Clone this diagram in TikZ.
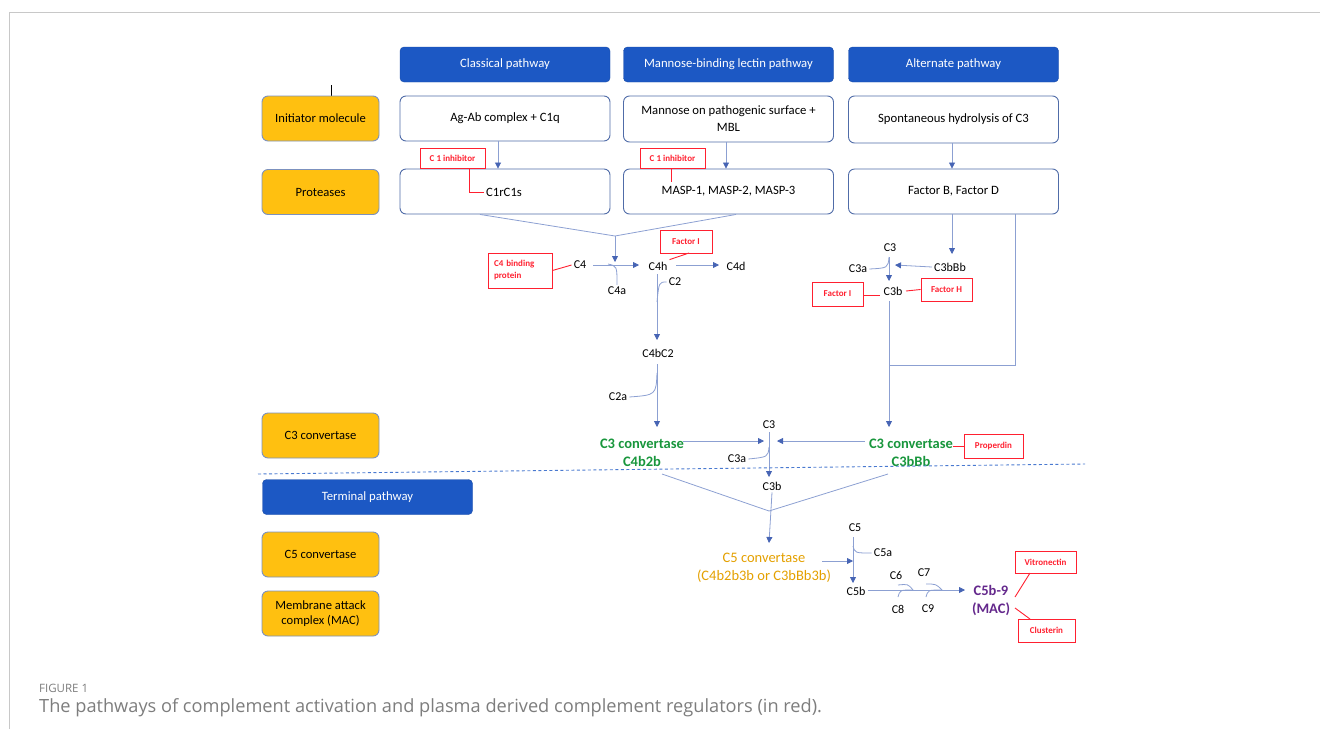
\documentclass[tikz,border=0pt]{standalone}
\usepackage{fontspec}
\setmainfont{Carlito}
\newfontfamily\capfont{Open Sans}
\usetikzlibrary{arrows.meta}
\definecolor{hdrblue}{RGB}{28,88,196}
\definecolor{boxblue}{RGB}{80,108,168}
\definecolor{flowblue}{RGB}{140,160,210}
\definecolor{tipblue}{RGB}{70,100,180}
\definecolor{stepfill}{RGB}{255,192,16}
\definecolor{regred}{RGB}{255,32,48}
\definecolor{convgreen}{RGB}{24,150,60}
\definecolor{convgold}{RGB}{228,160,0}
\definecolor{macpurple}{RGB}{100,40,140}
\definecolor{capgray}{RGB}{125,125,125}
\definecolor{framegray}{RGB}{200,200,200}

\tikzset{
  hdr/.style={fill=hdrblue, draw=hdrblue!85!black, rounded corners=4pt, text=white,
    minimum width=210pt, minimum height=35pt, inner sep=0pt, font=\fontsize{12.7}{15}\selectfont},
  initbox/.style={fill=white, draw=boxblue, line width=0.9pt, rounded corners=6pt, align=center,
    minimum width=210pt, minimum height=45pt, inner sep=0pt, font=\fontsize{12.7}{17}\selectfont},
  stepbox/.style={fill=stepfill, draw=boxblue!75, line width=0.9pt, rounded corners=6pt, align=center,
    minimum width=117pt, minimum height=45pt, inner sep=0pt, font=\fontsize{12.6}{15}\selectfont},
  regbox/.style={draw=regred, line width=0.9pt, text=regred, align=center, inner sep=0pt,
    font=\bfseries\fontsize{9}{12}\selectfont},
  lbl/.style={inner sep=2pt, font=\fontsize{12}{14}\selectfont},
  flow/.style={draw=flowblue, line width=0.8pt, -{Triangle[length=6pt,width=6pt,color=tipblue]}},
  link/.style={draw=flowblue, line width=0.8pt},
  regline/.style={draw=regred, line width=0.9pt}
}

\begin{document}
\begin{tikzpicture}[x=1pt,y=-1pt]
\useasboundingbox (0,0) rectangle (1320,729);
\draw[framegray, line width=1pt] (9,729) -- (9,12) -- (1320,12);
\draw[black, line width=0.6pt] (331,85) -- (331,101);

% pathway headers
\node[hdr] (cp) at (505,64.5) {Classical pathway};
\node[hdr] (lp) at (728.5,64.5) {Mannose-binding lectin pathway};
\node[hdr] (ap) at (953.5,64.5) {Alternate pathway};
\node[hdr] (tp) at (367.5,497) {Terminal pathway};

% row titles
\node[stepbox] (im) at (320.5,118.5) {Initiator molecule};
\node[stepbox] (pr) at (320.5,192) {Proteases};
\node[stepbox] (c3t) at (320.5,435.5) {C3 convertase};
\node[stepbox] (c5t) at (320.5,554.5) {C5 convertase};
\node[stepbox] (mac) at (320.5,613.5) {Membrane attack\\complex (MAC)};

% initiators and proteases
\node[initbox] (agab) at (505,118.5) {Ag-Ab complex + C1q};
\node[initbox, minimum height=46pt] (man) at (728.5,119) {Mannose on pathogenic surface +\\MBL};
\node[initbox, minimum height=47pt] (hyd) at (953.5,119.5) {Spontaneous hydrolysis of C3};
\node[initbox] (c1r) at (505,191.5) {};
\node[lbl, font=\fontsize{12.7}{15}\selectfont] (c1rt) at (504,192) {C1rC1s};
\node[initbox] (masp) at (728.5,191.5) {MASP-1, MASP-2, MASP-3};
\node[initbox] (fbd) at (953.5,191.5) {Factor B, Factor D};

\draw[flow] ([xshift=-7pt]agab.south) -- ([xshift=-7pt]c1r.north);
\draw[flow] ([xshift=-2.5pt]man.south) -- ([xshift=-2.5pt]masp.north);
\draw[flow] ([xshift=-1.5pt]hyd.south) -- ([xshift=-1.5pt]fbd.north);

% C1 inhibitors
\node[regbox, minimum width=65pt, minimum height=20pt] (ci1) at (452.5,158) {C 1 inhibitor};
\node[regbox, minimum width=65pt, minimum height=20pt] (ci2) at (672.5,158) {C 1 inhibitor};
\draw[regline] (ci1.south -| 469,0) |- (c1rt.west);
\draw[regline] (ci2.south -| 671,0) -- (671,182);

% classical / lectin branch
\coordinate (v1) at (615,236);
\draw[link] ([xshift=-25pt]c1r.south) -- (v1) -- ([xshift=7.5pt]masp.south);
\node[lbl] (c4) at (580,265) {C4};
\node[lbl] (c4h) at (658,266) {C4h};
\node[lbl] (c4d) at (736,266) {C4d};
\node[lbl] (c4a) at (617,291) {C4a};
\node[lbl] (c2) at (675,282) {C2};
\node[lbl] (c4bc2) at (658,353) {C4bC2};
\node[lbl] (c2a) at (618,397) {C2a};
\draw[flow] (v1) -- (615,262);
\draw[flow] (593,265) -- (639,265);
\draw[flow] (676,265) -- (719,265);
\draw[link] (608,264) .. controls (617,266) .. (c4a.north);
\draw[flow] (657,274) -- (657,340);
\draw[link] (c2.west) .. controls (659,282) .. (657,302);
\draw[flow] (657,364) -- (657,427);
\draw[link] (657,373) .. controls (656,395) .. (c2a.east);

\node[regbox, align=left, text width=52pt, minimum height=35pt, inner xsep=6pt] (c4bp) at (520,270.5) {C4 binding\\protein};
\draw[regline] (c4bp.east) -- (c4.west);
\node[regbox, minimum width=52pt, minimum height=23pt] (fi1) at (686,241.5) {Factor I};
\draw[regline] (689,253) -- (c4h.north east);

% alternate branch
\node[lbl] (c3x) at (890,248) {C3};
\node[lbl] (c3bbb) at (950,267) {C3bBb};
\node[lbl] (c3ax) at (858,269) {C3a};
\node[lbl] (c3bx) at (893,291) {C3b};
\draw[flow] (952,214) -- (952,254);
\draw[flow] (c3bbb.west) -- (895,265);
\draw[flow] (889,257) -- (889,281);
\draw[link] (889,257) .. controls (888,268) .. (c3ax.east);
\node[regbox, minimum width=51pt, minimum height=24pt] (fi2) at (837.5,294) {Factor I};
\node[regbox, minimum width=51pt, minimum height=23pt] (fh) at (946.5,289.5) {Factor H};
\draw[regline] (fi2.east |- 0,295) -- (880,295);
\draw[regline] (906,291) -- (fh.west);
\coordinate (r1) at (1015,365);
\draw[link] ([xshift=61.5pt]fbd.south) -- (r1) -- (889,365);
\draw[flow] (889,301) -- (889,427);

% C3 convertases
\node[lbl, align=center, text=convgreen, font=\bfseries\fontsize{14.5}{18}\selectfont] (cv1) at (642,453) {C3 convertase\\C4b2b};
\node[lbl, align=center, text=convgreen, font=\bfseries\fontsize{14.5}{18}\selectfont] (cv2) at (911,453) {C3 convertase\\C3bBb};
\node[regbox, minimum width=59pt, minimum height=24pt] (prp) at (993.5,446) {Properdin};
\draw[regline] (953,446) -- (prp.west);
\node[lbl] (c3m) at (769,425) {C3};
\node[lbl] (c3am) at (737,459) {C3a};
\node[lbl] (c3bm) at (772,486) {C3b};
\draw[flow] (683,441) -- (764,441);
\draw[flow] (865,441) -- (777,441);
\draw[flow] (769,432) -- (769,477);
\draw[link] (769,447) .. controls (768,457) .. (c3am.east);

\draw[hdrblue!80, line width=0.9pt, dash pattern=on 3pt off 2.5pt] (258,474) -- (1085,464);

% terminal pathway
\coordinate (v2) at (769,511);
\draw[link] (662,474) -- (v2) -- (888,474);
\draw[flow] (c3bm.south) -- (769,543);
\node[lbl, align=center, text=convgold, font=\fontsize{14.5}{18}\selectfont] (cv5) at (764,568) {C5 convertase\\(C4b2b3b or C3bBb3b)};
\node[lbl] (c5) at (855,528) {C5};
\node[lbl] (c5a) at (883,553) {C5a};
\node[lbl] (c5b) at (856,591) {C5b};
\draw[flow] (822,561) -- (853,561);
\draw[flow] (853,537) -- (853,583);
\draw[link] (853,546) .. controls (855,553) .. (c5a.west);
\node[lbl] (c6) at (896,575) {C6};
\node[lbl] (c7) at (924,573) {C7};
\node[lbl] (c8) at (898,609) {C8};
\node[lbl] (c9) at (928,609) {C9};
\draw[flow] (c5b.east |- 0,590) -- (965,590);
\draw[link] (898,585) .. controls (908,584) .. (913,590);
\draw[link] (898,597) .. controls (900,590) .. (913,590);
\draw[link] (926,584) .. controls (936,584) .. (942,590);
\draw[link] (926,597) .. controls (928,590) .. (942,590);
\node[lbl, align=center, text=macpurple, font=\bfseries\fontsize{14.5}{18}\selectfont] (mc) at (991,600.5) {C5b-9\\(MAC)};
\node[regbox, minimum width=61pt, minimum height=22pt] (vit) at (1045.5,562) {Vitronectin};
\node[regbox, minimum width=57pt, minimum height=23pt] (clu) at (1046.5,630.5) {Clusterin};
\draw[regline] (1030,573) -- (1015,597);
\draw[regline] (1015,608) -- (1030,619);

% caption
\node[anchor=west, inner sep=0pt, text=capgray, font=\capfont\fontsize{11.5}{13}\selectfont] (fig) at (39,688) {FIGURE 1};
\node[anchor=west, inner sep=0pt, text=capgray, font=\capfont\fontsize{18.2}{20}\selectfont] (cap) at (39,708) {The pathways of complement activation and plasma derived complement regulators (in red).};
\end{tikzpicture}
\end{document}
